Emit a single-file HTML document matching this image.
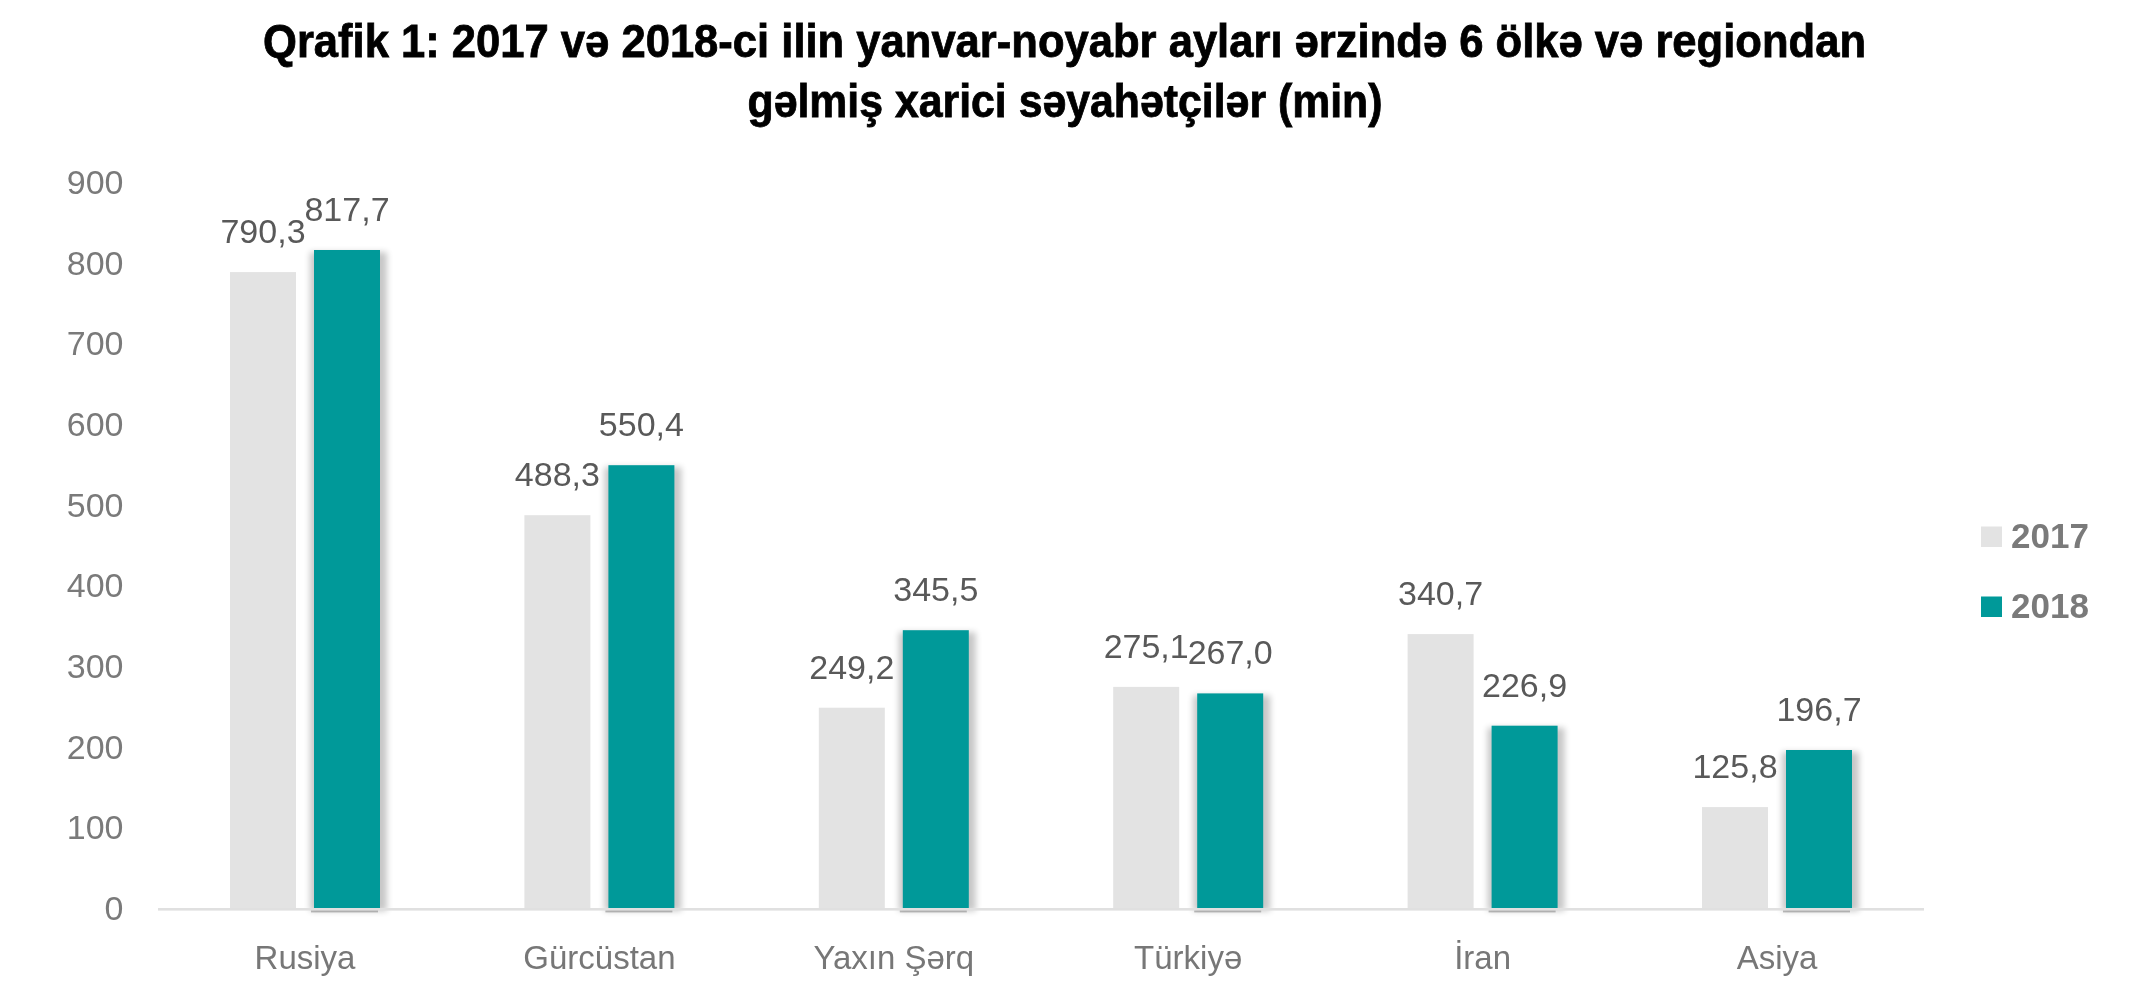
<!DOCTYPE html>
<html><head><meta charset="utf-8">
<style>
html,body{margin:0;padding:0;background:#fff;width:2131px;height:1002px;overflow:hidden}
svg{display:block;will-change:transform}
text{font-family:"Liberation Sans",sans-serif}
.dl{font-size:34px;fill:#595959;text-anchor:middle}
.yl{font-size:34px;fill:#7a7a7a;text-anchor:end}
.cl{font-size:33px;fill:#777777;text-anchor:middle}
.lg{font-size:35px;font-weight:bold;fill:#7a7a7a}
.tt{font-size:46px;font-weight:bold;fill:#000;stroke:#000;stroke-width:0.8px;text-anchor:middle}
</style></head><body>
<svg width="2131" height="1002" viewBox="0 0 2131 1002">
<defs>
<filter id="bl" x="-50%" y="-10%" width="200%" height="120%"><feGaussianBlur stdDeviation="3.3"/></filter>
<filter id="bl2" x="-20%" y="-300%" width="140%" height="700%"><feGaussianBlur stdDeviation="0.7"/></filter>
</defs>
<rect x="310.0" y="252.0" width="77" height="659.0" fill="#000" opacity="0.22" filter="url(#bl)"/>
<rect x="604.4" y="467.2" width="77" height="443.8" fill="#000" opacity="0.22" filter="url(#bl)"/>
<rect x="898.8" y="632.2" width="77" height="278.8" fill="#000" opacity="0.22" filter="url(#bl)"/>
<rect x="1193.2" y="695.4" width="77" height="215.6" fill="#000" opacity="0.22" filter="url(#bl)"/>
<rect x="1487.6" y="727.7" width="77" height="183.3" fill="#000" opacity="0.22" filter="url(#bl)"/>
<rect x="1782.0" y="752.0" width="77" height="159.0" fill="#000" opacity="0.22" filter="url(#bl)"/>
<rect x="158" y="908" width="1766" height="2.6" fill="#e0e0e0"/>
<rect x="230.0" y="272.1" width="66" height="635.9" fill="#e3e3e3"/>
<rect x="311.0" y="910.6" width="67" height="1.8" fill="#7a7a7a" opacity="0.5" filter="url(#bl2)"/>
<rect x="314.0" y="250.0" width="66" height="658.0" fill="#009999"/>
<rect x="524.4" y="515.2" width="66" height="392.8" fill="#e3e3e3"/>
<rect x="605.4" y="910.6" width="67" height="1.8" fill="#7a7a7a" opacity="0.5" filter="url(#bl2)"/>
<rect x="608.4" y="465.2" width="66" height="442.8" fill="#009999"/>
<rect x="818.8" y="707.7" width="66" height="200.3" fill="#e3e3e3"/>
<rect x="899.8" y="910.6" width="67" height="1.8" fill="#7a7a7a" opacity="0.5" filter="url(#bl2)"/>
<rect x="902.8" y="630.2" width="66" height="277.8" fill="#009999"/>
<rect x="1113.2" y="686.9" width="66" height="221.1" fill="#e3e3e3"/>
<rect x="1194.2" y="910.6" width="67" height="1.8" fill="#7a7a7a" opacity="0.5" filter="url(#bl2)"/>
<rect x="1197.2" y="693.4" width="66" height="214.6" fill="#009999"/>
<rect x="1407.6" y="634.1" width="66" height="273.9" fill="#e3e3e3"/>
<rect x="1488.6" y="910.6" width="67" height="1.8" fill="#7a7a7a" opacity="0.5" filter="url(#bl2)"/>
<rect x="1491.6" y="725.7" width="66" height="182.3" fill="#009999"/>
<rect x="1702.0" y="807.1" width="66" height="100.9" fill="#e3e3e3"/>
<rect x="1783.0" y="910.6" width="67" height="1.8" fill="#7a7a7a" opacity="0.5" filter="url(#bl2)"/>
<rect x="1786.0" y="750.0" width="66" height="158.0" fill="#009999"/>
<text class="dl" x="263.0" y="243.1">790,3</text>
<text class="dl" x="347.0" y="221.0">817,7</text>
<text class="dl" x="557.4" y="486.2">488,3</text>
<text class="dl" x="641.4" y="436.2">550,4</text>
<text class="dl" x="851.8" y="678.7">249,2</text>
<text class="dl" x="935.8" y="601.2">345,5</text>
<text class="dl" x="1146.2" y="657.9">275,1</text>
<text class="dl" x="1230.2" y="664.4">267,0</text>
<text class="dl" x="1440.6" y="605.1">340,7</text>
<text class="dl" x="1524.6" y="696.7">226,9</text>
<text class="dl" x="1735.0" y="778.1">125,8</text>
<text class="dl" x="1819.0" y="721.0">196,7</text>
<text class="yl" x="123.5" y="920.0">0</text>
<text class="yl" x="123.5" y="839.3">100</text>
<text class="yl" x="123.5" y="758.7">200</text>
<text class="yl" x="123.5" y="678.0">300</text>
<text class="yl" x="123.5" y="597.3">400</text>
<text class="yl" x="123.5" y="516.6">500</text>
<text class="yl" x="123.5" y="436.0">600</text>
<text class="yl" x="123.5" y="355.3">700</text>
<text class="yl" x="123.5" y="274.6">800</text>
<text class="yl" x="123.5" y="194.0">900</text>
<text class="cl" x="305.0" y="969">Rusiya</text>
<text class="cl" x="599.4" y="969">Gürcüstan</text>
<text class="cl" x="893.8" y="969">Yaxın Şərq</text>
<text class="cl" x="1188.2" y="969">Türkiyə</text>
<text class="cl" x="1482.6" y="969">İran</text>
<text class="cl" x="1777.0" y="969">Asiya</text>
<rect x="1981" y="526.5" width="21" height="20.5" fill="#e3e3e3"/>
<rect x="1981" y="596.5" width="21" height="20.5" fill="#009999"/>
<text class="lg" x="2011" y="548">2017</text>
<text class="lg" x="2011" y="618">2018</text>
<text class="tt" x="1064.5" y="57" textLength="1603" lengthAdjust="spacingAndGlyphs">Qrafik 1: 2017 və 2018-ci ilin yanvar-noyabr ayları ərzində 6 ölkə və regiondan</text>
<text class="tt" x="1065" y="117" textLength="635" lengthAdjust="spacingAndGlyphs">gəlmiş xarici səyahətçilər (min)</text>
</svg>
</body></html>
